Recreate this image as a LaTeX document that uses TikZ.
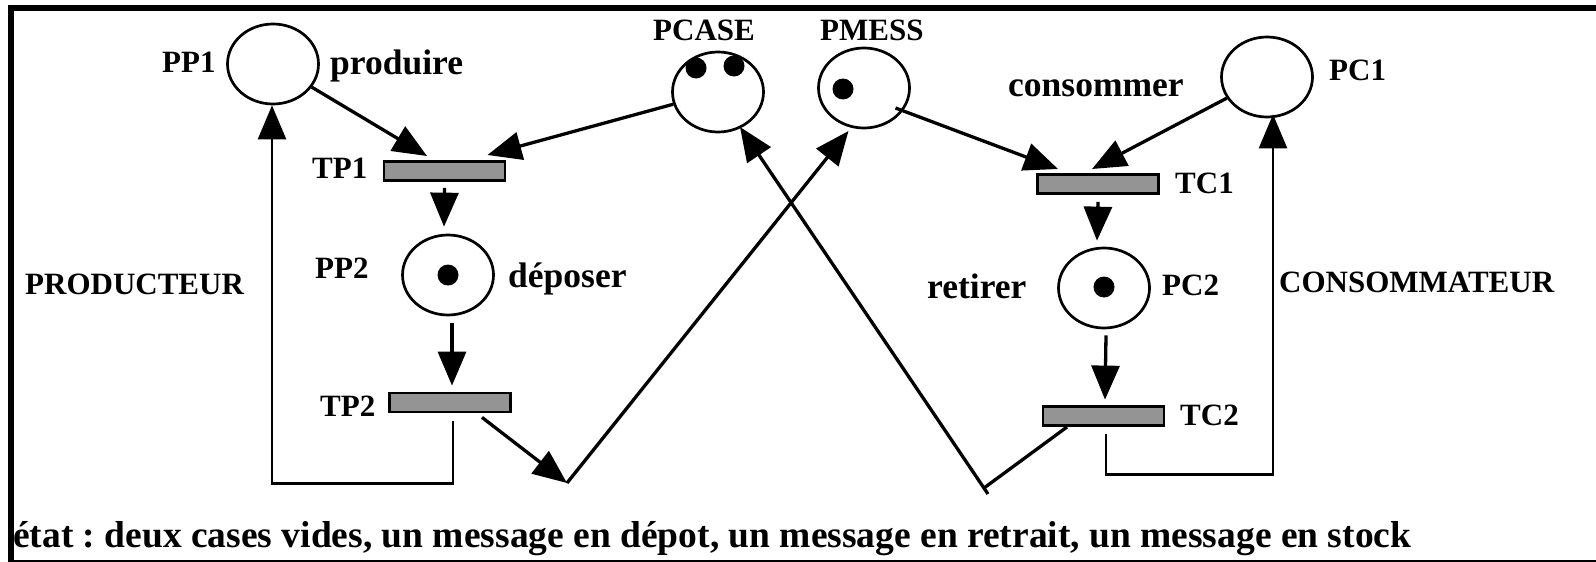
\documentclass[tikz,border=0pt]{standalone}
\usepackage{fontspec}
\setmainfont{Liberation Serif}
\usetikzlibrary{arrows.meta,shapes.geometric}
\definecolor{trgray}{RGB}{148,148,148}
\frenchspacing

\begin{document}
\begin{tikzpicture}[x=1pt,y=-1pt,
  place/.style={draw,ellipse,line width=2.7pt,minimum width=91pt,minimum height=80pt,inner sep=0pt},
  trans/.style={draw,rectangle,fill=trgray,line width=2.8pt,minimum width=121pt,minimum height=19pt,inner sep=0pt},
  token/.style={circle,fill=black,minimum size=21pt,inner sep=0pt},
  nm/.style={font=\fontsize{31}{34}\selectfont\bfseries,anchor=base west,inner sep=0pt},
  wd/.style={font=\fontsize{35.5}{38}\selectfont\bfseries,anchor=base west,inner sep=0pt},
  bigtip/.style={-{Triangle[length=34pt,width=28pt]}},
  arc/.style={line width=3.3pt,bigtip},
  back/.style={line width=2.5pt},
]
\useasboundingbox (0,0) rectangle (1596,562);
\clip (0,0) rectangle (1596,562);

% outer frame (open on the right)
\draw[line width=6pt] (11,8) rectangle (1620,563);

% places
\node[place] (PP1)   at (273,64)    {};
\node[place] (PCASE) at (718,92)    {};
\node[place] (PMESS) at (864,88)    {};
\node[place] (PC1)   at (1267,77)   {};
\node[place] (PP2)   at (448,275)   {};
\node[place] (PC2)   at (1104,288)  {};

% tokens
\node[token] (k1) at (696,68) {};
\node[token] (k2) at (734,66) {};
\node[token] (k3) at (843,89) {};
\node[token] (k4) at (448,275) {};
\node[token] (k5) at (1104,287) {};

% transitions
\node[trans] (TP1) at (444.5,171) {};
\node[trans] (TP2) at (450,402.5) {};
\node[trans] (TC1) at (1098,184) {};
\node[trans] (TC2) at (1103.5,416) {};

% labels
\node[nm] (lPP1)   at (162,72)   {PP1};
\node[wd] (lprod)  at (330,74)   {produire};
\node[nm] (lPCASE) at (653,40)   {PCASE};
\node[nm] (lPMESS) at (820,40)   {PMESS};
\node[wd] (lcons)  at (1008,96)  {consommer};
\node[nm] (lPC1)   at (1329,80)  {PC1};
\node[nm] (lTP1)   at (312,178)  {TP1};
\node[nm] (lTC1)   at (1175,193) {TC1};
\node[nm] (lPP2)   at (315,278)  {PP2};
\node[wd] (ldep)   at (508,287)  {déposer};
\node[nm] (lprodu) at (25,294)   {PRODUCTEUR};
\node[wd] (lret)   at (927,298)  {retirer};
\node[nm] (lPC2)   at (1162,295) {PC2};
\node[nm] (lconso) at (1279,292) {CONSOMMATEUR};
\node[nm] (lTP2)   at (320,416)  {TP2};
\node[nm] (lTC2)   at (1180,425) {TC2};
\node[font=\fontsize{37.5}{40}\selectfont\bfseries,anchor=base west,inner sep=0pt] (etat) at (13,547)
  {état : deux cases vides, un message en dépot, un message en retrait, un message en stock};

% junction points of the crossing arcs
\coordinate (v1) at (567,483);
\coordinate (v2) at (984,488);

% producer side
\draw[arc] (PP1) -- ([shift={(-17.5,-15)}]TP1.center);
\draw[arc] (PCASE) -- ([shift={(43,-16)}]TP1.center);
\draw[arc] ([shift={(0,6)}]TP1.south) -- ([shift={(-4,-7)}]PP2.north);
\draw[arc] ([shift={(4,7)}]PP2.south) -- ([shift={(2,-6)}]TP2.north);
\draw[back,bigtip] ([shift={(3,8)}]TP2.south) -- ++(0,62) -| ([shift={(-1,0)}]PP1.south);
\draw[arc] ([shift={(32,4)}]TP2.south) -- (v1);
\draw[arc] (v1) -- ([shift={(-15.5,43)}]PMESS.center);

% consumer side
\draw[arc] ([shift={(31.5,20)}]PMESS.center) -- ([shift={(-40,-15)}]TC1.center);
\draw[arc] (PC1) -- ([shift={(-6,-15)}]TC1.center);
\draw[arc] ([shift={(0,7)}]TC1.south) -- ([shift={(-7,-6)}]PC2.north);
\draw[arc] ([shift={(2,6)}]PC2.south) -- ([shift={(1.5,-5.5)}]TC2.north);
\draw[back,bigtip] ([shift={(2.5,7.5)}]TC2.south) -- ++(0,40) -| ([shift={(6,-4)}]PC1.south);
\draw[line width=3.3pt] ([shift={(-36.5,11)}]TC2.center) -- (v2);
\draw[arc] ([shift={(4,6)}]v2) -- ([shift={(22,35)}]PCASE.center);
\end{tikzpicture}
\end{document}
